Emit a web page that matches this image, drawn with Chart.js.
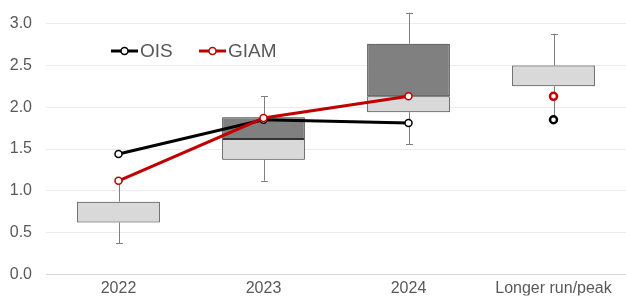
<!DOCTYPE html>
<html lang="en">
<head>
<meta charset="utf-8" />
<title>Rate path expectations</title>
<script src="https://cdn.jsdelivr.net/npm/chart.js"></script>
<style>
  html, body { margin: 0; padding: 0; background: #fff; }
  #wrap { width: 626px; height: 298px; position: relative; }
</style>
</head>
<body>
<div id="wrap"><canvas id="chart"></canvas></div>
<script>
// categories
var labels = ["2022", "2023", "2024", "Longer run/peak"];

// box plot pieces
var whiskerLow  = [0.37, 1.12, 1.56, 1.85];
var boxLow      = [0.62, 1.37, 1.94, 2.25];
var boxMid      = [0.87, 1.62, 2.13, 2.50];
var boxHigh     = [0.87, 1.88, 2.76, 2.50];
var whiskerHigh = [1.12, 2.13, 3.13, 2.88];

// market lines
var ois  = [1.44, 1.85, 1.81, 1.85];
var giam = [1.12, 1.87, 2.13, 2.13];

var lowerBox = labels.map(function (l, i) { return [boxLow[i], boxMid[i]]; });
var upperBox = labels.map(function (l, i) { return [boxMid[i], boxHigh[i]]; });
// path lines over the dated years, lone markers for the longer run
var oisPath  = ois.map(function (v, i) { return i < 3 ? v : null; });
var giamPath = giam.map(function (v, i) { return i < 3 ? v : null; });
var oisLR  = ois.map(function (v, i) { return i === 3 ? v : null; });
var giamLR = giam.map(function (v, i) { return i === 3 ? v : null; });

var textColor = "#595959";
var fontFamily = "'Liberation Sans', Arial, sans-serif";

// whiskers drawn through the scales
var whiskers = {
  id: "whiskers",
  beforeDatasetsDraw: function (chart) {
    var ctx = chart.ctx, x = chart.scales.x, y = chart.scales.y;
    ctx.save();
    ctx.strokeStyle = "#7f7f7f";
    ctx.lineWidth = 1;
    labels.forEach(function (l, i) {
      var px = Math.round(x.getPixelForValue(i)) + 0.5;
      var segs = [[whiskerLow[i], boxLow[i]], [boxHigh[i], whiskerHigh[i]]];
      segs.forEach(function (s) {
        ctx.beginPath();
        ctx.moveTo(px, y.getPixelForValue(s[0]));
        ctx.lineTo(px, y.getPixelForValue(s[1]));
        ctx.stroke();
      });
      [whiskerLow[i], whiskerHigh[i]].forEach(function (v) {
        var py = Math.round(y.getPixelForValue(v)) + 0.5;
        ctx.beginPath();
        ctx.moveTo(px - 3.5, py);
        ctx.lineTo(px + 3.5, py);
        ctx.stroke();
      });
    });
    ctx.restore();
  }
};

// legend inside the plot, line with a circle marker
var insideLegend = {
  id: "insideLegend",
  afterDraw: function (chart) {
    var ctx = chart.ctx;
    var items = [
      { text: "OIS", color: "#000000", x: 111 },
      { text: "GIAM", color: "#c00000", x: 199 }
    ];
    var ly = 51;
    ctx.save();
    items.forEach(function (it) {
      ctx.strokeStyle = it.color;
      ctx.lineWidth = 3;
      ctx.beginPath();
      ctx.moveTo(it.x, ly);
      ctx.lineTo(it.x + 27, ly);
      ctx.stroke();
      ctx.fillStyle = "#fff";
      ctx.lineWidth = 1.5;
      ctx.beginPath();
      ctx.arc(it.x + 13.5, ly, 3.5, 0, Math.PI * 2);
      ctx.fill();
      ctx.stroke();
      ctx.fillStyle = textColor;
      ctx.font = "19px " + fontFamily;
      ctx.textBaseline = "middle";
      ctx.fillText(it.text, it.x + 29, ly + 1);
    });
    ctx.restore();
  }
};

var config = {
  data: {
    labels: labels,
    datasets: [
      {
        type: "line", label: "GIAM", data: giamPath, order: 0,
        borderColor: "#c00000", borderWidth: 3,
        pointRadius: 3.5, pointBorderWidth: 1.5,
        pointBackgroundColor: "#fff", pointBorderColor: "#c00000"
      },
      {
        type: "line", label: "OIS", data: oisPath, order: 1,
        borderColor: "#000000", borderWidth: 3,
        pointRadius: 3.5, pointBorderWidth: 1.5,
        pointBackgroundColor: "#fff", pointBorderColor: "#000000"
      },
      {
        type: "line", label: "GIAM LR", data: giamLR, order: 0, showLine: false,
        pointRadius: 3.5, pointBorderWidth: 2.5,
        pointBackgroundColor: "#fff", pointBorderColor: "#c00000"
      },
      {
        type: "line", label: "OIS LR", data: oisLR, order: 1, showLine: false,
        pointRadius: 3.5, pointBorderWidth: 2.5,
        pointBackgroundColor: "#fff", pointBorderColor: "#000000"
      },
      {
        type: "bar", label: "lower", data: lowerBox, order: 5, grouped: false,
        backgroundColor: "#d9d9d9", borderColor: "#333333", borderWidth: 1,
        borderSkipped: false, barPercentage: 0.57, categoryPercentage: 1
      },
      {
        type: "bar", label: "upper", data: upperBox, order: 4, grouped: false,
        backgroundColor: "#808080", borderColor: "#333333", borderWidth: 1,
        borderSkipped: false, barPercentage: 0.57, categoryPercentage: 1
      }
    ]
  },
  options: {
    responsive: true,
    maintainAspectRatio: false,
    animation: false,
    layout: { autoPadding: false, padding: { top: 22, left: 0, right: 0, bottom: 0 } },
    plugins: {
      legend: { display: false },
      tooltip: { enabled: false }
    },
    scales: {
      x: {
        grid: { display: false, drawTicks: false },
        border: { display: false },
        ticks: {
          color: textColor, font: { family: fontFamily, size: 16 },
          padding: 5, maxRotation: 0
        },
        afterFit: function (scale) {
          scale.paddingLeft = 0;
          scale.paddingRight = 0;
          scale.height = 21;
        }
      },
      y: {
        min: 0, max: 3,
        border: { display: false },
        grid: {
          drawTicks: false,
          color: function (c) { return c.index === 0 ? "#d9d9d9" : "#ececec"; }
        },
        ticks: {
          stepSize: 0.5, padding: 14,
          color: textColor, font: { family: fontFamily, size: 16 },
          callback: function (v) { return v.toFixed(1); }
        },
        afterFit: function (scale) {
          scale.width = 46;
        }
      }
    }
  },
  plugins: [whiskers, insideLegend]
};

// let the whisker above 3.0 show outside the plot area
config.data.datasets.forEach(function (d) { d.clip = false; });

var myChart = new Chart(document.getElementById("chart"), config);
</script>
</body>
</html>
